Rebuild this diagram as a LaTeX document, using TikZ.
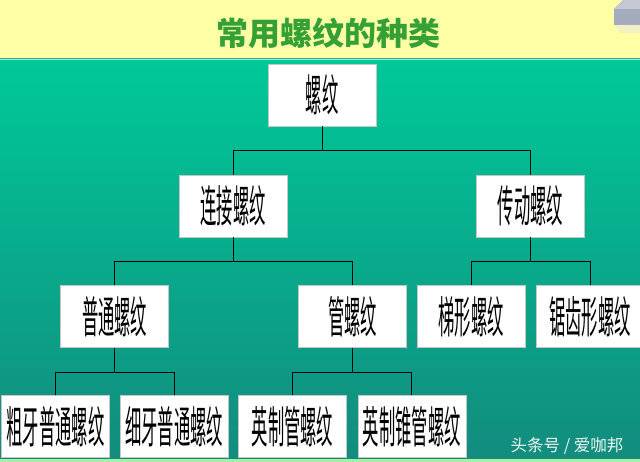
\documentclass[tikz,border=0pt]{standalone}
\usepackage{fontspec}
\usepackage{graphicx}
\newfontfamily\cjk{Noto Sans CJK SC}
\definecolor{bandyellow}{HTML}{FFFFA6}
\definecolor{titlegreen}{HTML}{35A035}
\definecolor{tealtop}{HTML}{00C999}
\definecolor{tealmid}{HTML}{06AC8C}
\definecolor{tealbot}{HTML}{128C7E}
\definecolor{stripgreen}{HTML}{A6F0A6}
\definecolor{cubegrey}{HTML}{A4ABBD}
\definecolor{cubelight}{HTML}{C4C8D2}
\definecolor{marktext}{HTML}{EEF4F2}
\newcommand{\boxtxt}[1]{\scalebox{0.37}[1]{\cjk\fontsize{44}{46}\selectfont #1}}
\begin{document}
\begin{tikzpicture}[x=1pt,y=-1pt,
  box/.style={draw=gray!45, line width=0.6pt, fill=white, minimum width=108pt, minimum height=62pt, inner sep=0pt, text=black},
  conn/.style={draw=black, line width=0.9pt}]
\useasboundingbox (0,0) rectangle (640,462);
% backgrounds
\fill[bandyellow] (0,0) rectangle (640,59);
\shade[top color=tealtop, middle color=tealmid, bottom color=tealbot] (0,59) rectangle (640,459);
\fill[stripgreen] (0,459) rectangle (640,462);
\draw[gray!40, line width=0.5pt] (0,59) -- (640,59);
% cube decoration
\fill[cubegrey] (614,25) -- (614,9) -- (623,0) -- (640,0) -- (640,25) -- cycle;
\fill[cubelight] (614,9) -- (623,0) -- (640,0) -- (640,9) -- cycle;
\fill[gray!20, opacity=0.5] (614,25) -- (640,25) -- (640,33) -- (620,33) -- cycle;
% title
\node (title) at (328,33) {\cjk\bfseries\fontsize{32}{34}\selectfont\color{titlegreen}常用螺纹的种类};
% nodes
\node[box] (root) at (322,95) {\boxtxt{螺纹}};
\node[box] (lj) at (233,206) {\boxtxt{连接螺纹}};
\node[box] (cd) at (530.5,206) {\boxtxt{传动螺纹}};
\node[box] (pt) at (114.6,316.5) {\boxtxt{普通螺纹}};
\node[box] (gl) at (352.5,316.5) {\boxtxt{管螺纹}};
\node[box] (tx) at (471,316.5) {\boxtxt{梯形螺纹}};
\node[box] (jc) at (590,316.5) {\boxtxt{锯齿形螺纹}};
\node[box] (cy) at (55.5,426.7) {\boxtxt{粗牙普通螺纹}};
\node[box] (xy) at (174.2,426.7) {\boxtxt{细牙普通螺纹}};
\node[box] (yg) at (292.5,426.7) {\boxtxt{英制管螺纹}};
\node[box] (yz) at (411.8,426.7) {\boxtxt{英制锥管螺纹}};
% connectors
\draw[conn] (root.south) -- ++(0,24) -| (lj.north);
\draw[conn] (root.south) -- ++(0,24) -| (cd.north);
\draw[conn] (lj.south) -- ++(0,24.5) -| (pt.north);
\draw[conn] (lj.south) -- ++(0,24.5) -| (gl.north);
\draw[conn] (cd.south) -- ++(0,24.5) -| (tx.north);
\draw[conn] (cd.south) -- ++(0,24.5) -| (jc.north);
\draw[conn] (pt.south) -- ++(0,24.5) -| (cy.north);
\draw[conn] (pt.south) -- ++(0,24.5) -| (xy.north);
\draw[conn] (gl.south) -- ++(0,24.5) -| (yg.north);
\draw[conn] (gl.south) -- ++(0,24.5) -| (yz.north);
% watermark
\node[text=marktext, font=\cjk\fontsize{16.5}{18}\selectfont] (mark) at (567,446) {头条号 / 爱咖邦};
\end{tikzpicture}
\end{document}
